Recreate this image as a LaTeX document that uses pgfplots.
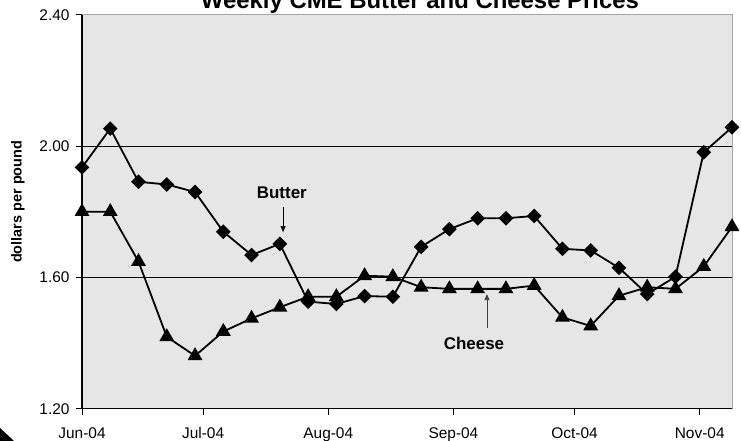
\documentclass[border=0pt]{standalone}
\usepackage{fontspec}
\setmainfont{Liberation Sans}
\usepackage{pgfplots}
\pgfplotsset{compat=1.18}
\usetikzlibrary{arrows.meta}
\definecolor{bg}{RGB}{230,230,230}
\begin{document}
\begin{tikzpicture}
\path[use as bounding box] (0,0) rectangle (741bp,441bp);
\node[anchor=base, font=\bfseries\fontsize{24}{28}\selectfont] at (420bp,432bp) {Weekly CME Butter and Cheese Prices};
\fill[black] (0,0) -- (0,13bp) -- (14bp,0) -- cycle;
\begin{axis}[
  at={(82bp,32.3bp)}, anchor=south west,
  width=650bp, height=394bp, scale only axis,
  xmin=0, xmax=161, ymin=1.2, ymax=2.4,
  axis x line*=bottom, axis y line*=left,
  axis line style={black, line width=1.1bp},
  axis background/.style={fill=bg, draw=gray!70, line width=0.8bp},
  tick align=outside, major tick length=6bp,
  tick style={black, line width=0.8bp},
  xtick={0,30,61,92,122,153},
  xticklabels={Jun-04,Jul-04,Aug-04,Sep-04,Oct-04,Nov-04},
  ytick={1.2,1.6,2.0,2.4},
  yticklabel style={/pgf/number format/.cd, fixed, fixed zerofill, precision=2, /tikz/.cd, xshift=-3bp},
  xticklabel style={yshift=-9bp},
  /pgf/number format/assume math mode=true,
  tick label style={font=\fontsize{15.5}{18}\selectfont},
  extra y ticks={1.6,2.0},
  extra y tick labels={},
  extra y tick style={grid=major, major grid style={black, line width=0.7bp}, major tick length=0pt},
  ylabel={dollars per pound},
  ylabel style={font=\bfseries\fontsize{14.5}{17}\selectfont, at={(axis description cs:-0.0985,0.525)}, anchor=center},
  clip=false,
]
\addplot[black, line width=1.8bp, mark=square*, mark size=4.3bp, mark options={rotate=45, solid, fill=black}] coordinates {
(0,1.935) (7,2.053) (14,1.891) (21,1.883) (28,1.860) (35,1.739)
(42,1.668) (49,1.702) (56,1.526) (63,1.519) (70,1.543) (77,1.541)
(84,1.693) (91,1.747) (98,1.780) (105,1.780) (112,1.787) (119,1.687)
(126,1.682) (133,1.629) (140,1.549) (147,1.602) (154,1.981) (161,2.057)
};
\addplot[black, line width=1.8bp, mark=triangle*, mark size=6.8bp, mark options={solid, fill=black}] coordinates {
(0,1.800) (7,1.800) (14,1.648) (21,1.419) (28,1.361) (35,1.435)
(42,1.475) (49,1.509) (56,1.541) (63,1.541) (70,1.605) (77,1.602)
(84,1.570) (91,1.565) (98,1.565) (105,1.565) (112,1.575) (119,1.478)
(126,1.452) (133,1.544) (140,1.570) (147,1.565) (154,1.633) (161,1.754)
};
\node[font=\bfseries\fontsize{17}{20}\selectfont] at (axis cs:49.5,1.857) {Butter};
\draw[black, line width=0.8bp, -{Triangle[length=6bp,width=5bp]}] (axis cs:49.8,1.814) -- (axis cs:49.8,1.738);
\node[font=\bfseries\fontsize{17}{20}\selectfont] at (axis cs:97.1,1.40) {Cheese};
\draw[black!75, line width=0.8bp, -{Triangle[length=6bp,width=5bp]}] (axis cs:100.3,1.445) -- (axis cs:100.3,1.549);
\end{axis}
\end{tikzpicture}
\end{document}
